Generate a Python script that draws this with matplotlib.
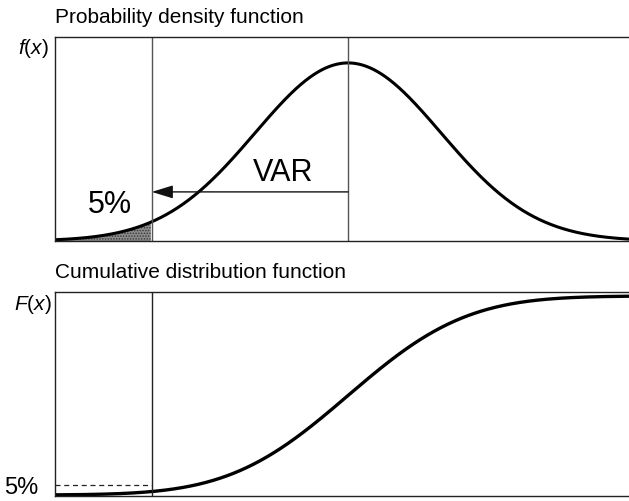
import math
import numpy as np
import matplotlib
matplotlib.use("Agg")
import matplotlib.pyplot as plt

plt.rcParams['font.family'] = ['Liberation Sans', 'DejaVu Sans']
plt.rcParams['mathtext.fontset'] = 'custom'
plt.rcParams['mathtext.rm'] = 'Liberation Sans'
plt.rcParams['mathtext.it'] = 'Liberation Sans:italic'

# distribution parameters (x in units of sigma)
mean = 0.0
sigma = 1.0
x_left, x_right = -3.15, 3.02
var_x = -2.11          # position of the 5% cut-off line
var_arrow_y = 0.11     # height of the VAR arrow in the density panel
tail_level = 0.05      # 5% level in the cumulative panel

titles = ["Probability density function", "Cumulative distribution function"]
ylabels = ["$f(x)$", "$F(x)$"]

xs = np.linspace(x_left, x_right, 600)
pdf = np.exp(-0.5 * ((xs - mean) / sigma) ** 2) / (sigma * math.sqrt(2 * math.pi))
cdf = np.array([0.5 * (1 + math.erf((v - mean) / (sigma * math.sqrt(2)))) for v in xs])

fig = plt.figure(figsize=(6.29, 5.01), dpi=100)
ax1 = fig.add_axes([55 / 629, 1 - 241 / 501, 1 - 55 / 629, 204 / 501])
ax2 = fig.add_axes([55 / 629, 1 - 496 / 501, 1 - 55 / 629, 204 / 501])

for ax in (ax1, ax2):
    ax.set_xlim(x_left, x_right)
    ax.spines['right'].set_visible(False)
    for s in ('top', 'left', 'bottom'):
        ax.spines[s].set_linewidth(1.0)
        ax.spines[s].set_color('#222222')
    ax.set_xticks([])
    ax.tick_params(length=0)

# --- density panel ---
ax1.set_ylim(0, 0.457)
ax1.set_yticks([])
ax1.plot(xs, pdf, color='black', lw=2.2, solid_capstyle='butt')
tail = xs <= var_x
plt.rcParams['hatch.color'] = '#222222'
plt.rcParams['hatch.linewidth'] = 0.7
ax1.fill_between(xs[tail], 0, pdf[tail], facecolor='#8c8c8c',
                 hatch='......', edgecolor='#333333', linewidth=0)
ax1.axvline(var_x, color='#555555', lw=1.0)
ax1.axvline(mean, color='#555555', lw=1.0)
ax1.annotate('', xy=(var_x, var_arrow_y), xytext=(mean, var_arrow_y),
             arrowprops=dict(arrowstyle='-|>,head_length=0.65,head_width=0.2',
                             color='#111111', lw=1.0,
                             mutation_scale=20, shrinkA=0, shrinkB=0))
ax1.text(-0.7, var_arrow_y + 0.008, 'VAR', fontsize=22,
         ha='center', va='bottom')
ax1.text(var_x - 0.45, 0.047, '5%', fontsize=22, ha='center', va='bottom')

# --- cumulative panel ---
ax2.set_ylim(-0.005, 1.02)
ax2.plot(xs, cdf, color='black', lw=2.4, solid_capstyle='butt')
ax2.axvline(var_x, color='#222222', lw=1.0)
ax2.plot([x_left, var_x], [tail_level, tail_level], color='#222222',
         lw=0.9, ls=(0, (4, 3)))
ax2.set_yticks([tail_level])
ax2.set_yticklabels(['5%'], fontsize=17)
ax2.tick_params(axis='y', pad=12)

# titles and axis names
fig.text(55 / 629, 1 - 17.5 / 501, titles[0], fontsize=15, ha='left', va='center')
fig.text(55 / 629, 1 - 272 / 501, titles[1], fontsize=15, ha='left', va='center')
fig.text(33 / 629, 1 - 49 / 501, ylabels[0], fontsize=15, ha='center', va='center')
fig.text(33 / 629, 1 - 305 / 501, ylabels[1], fontsize=15, ha='center', va='center')

fig.savefig('out.png', dpi=100)
